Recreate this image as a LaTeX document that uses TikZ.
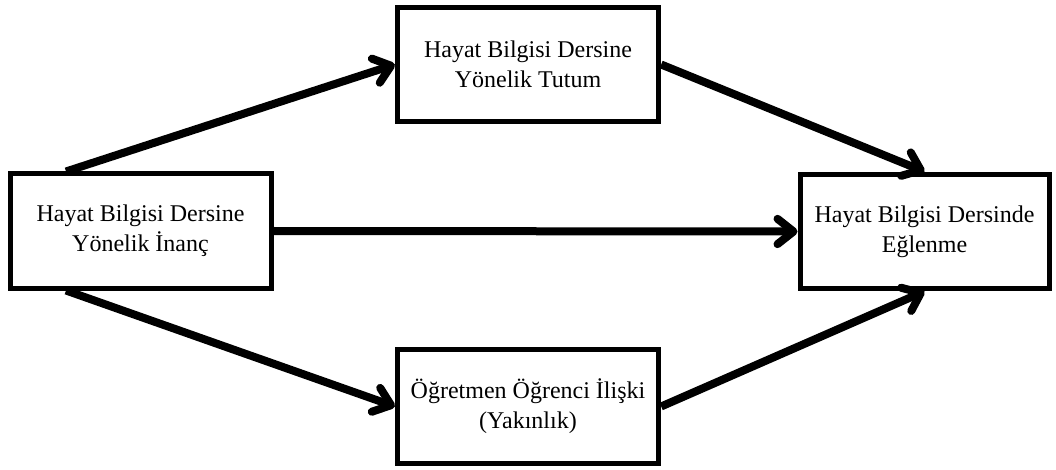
\documentclass[tikz,border=0pt]{standalone}
\usepackage{fontspec}
\setmainfont{Liberation Serif}
\usetikzlibrary{arrows.meta,calc}
\begin{document}
\begin{tikzpicture}[x=0.75pt,y=-0.75pt,
  box/.style={draw=black,line width=3.75pt,rectangle,align=center,
    font=\fontsize{18pt}{22.5pt}\selectfont,inner sep=0pt,
    minimum width=196pt,minimum height=86pt},
  arr/.style={line width=6pt,
    -{Straight Barb[length=12pt,width=19pt,line cap=round,line join=round]}}]
\useasboundingbox (0,0) rectangle (1056,470);
\fill[white] (0,0) rectangle (1056,470);
\node[box,minimum width=195.75pt,minimum height=85.5pt] (L) at (140.5,231) {Hayat Bilgisi Dersine\\Yönelik İnanç};
\node[box] (T) at (528,64.5) {Hayat Bilgisi Dersine\\Yönelik Tutum};
\node[box] (B) at (528,406.5) {Öğretmen Öğrenci İlişki\\(Yakınlık)};
\node[box,minimum width=186.75pt] (R) at (924.5,231.5) {Hayat Bilgisi Dersinde\\Eğlenme};
\coordinate (Ln) at ($(L.north west)!0.22!(L.north east)$);
\coordinate (Ls) at ($(L.south west)!0.22!(L.south east)$);
\draw[arr] (Ln) -- (T.west);
\draw[arr] (Ls) -- (B.west);
\draw[arr] (L.east) -- (R.west);
\draw[arr] (T.east) -- (R.north);
\draw[arr] (B.east) -- (R.south);
\end{tikzpicture}
\end{document}
